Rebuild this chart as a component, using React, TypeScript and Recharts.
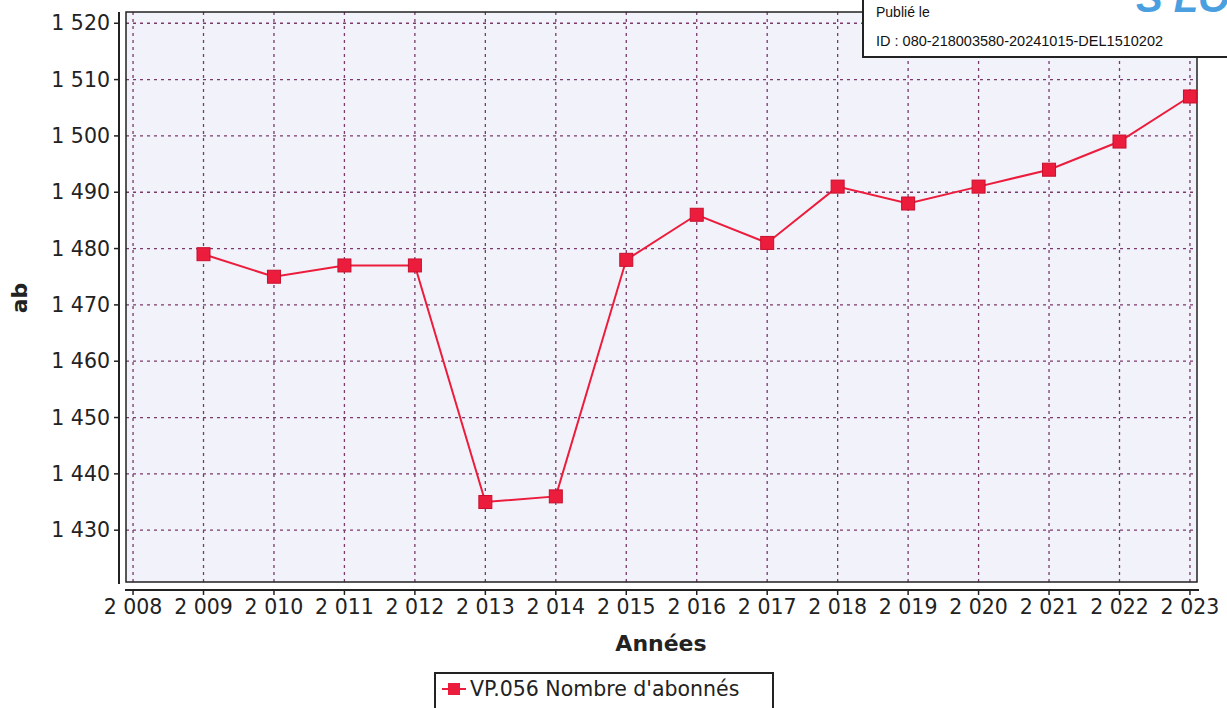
import React from 'react';
import * as Recharts from 'recharts';
import { LineChart, Line, XAxis, YAxis, CartesianGrid } from 'recharts';

const years = [2009, 2010, 2011, 2012, 2013, 2014, 2015, 2016, 2017, 2018, 2019, 2020, 2021, 2022, 2023];
const abonnes = [1479, 1475, 1477, 1477, 1435, 1436, 1478, 1486, 1481, 1491, 1488, 1491, 1494, 1499, 1507];
const xTicks = [2008, 2009, 2010, 2011, 2012, 2013, 2014, 2015, 2016, 2017, 2018, 2019, 2020, 2021, 2022, 2023];
const yTicks = [1430, 1440, 1450, 1460, 1470, 1480, 1490, 1500, 1510, 1520];
const seriesName = "VP.056 Nombre d'abonnés";

const data = years.map((y, i) => ({ year: y, value: abonnes[i] }));

const fmt = (v: number) => String(v).replace(/\B(?=(\d{3})+(?!\d))/g, ' ');
const FONT = '"DejaVu Sans", sans-serif';
const RED = '#ec1c3c';

const W = 1227;
const H = 708;
const M = { top: 12, right: 30, bottom: 0, left: 0 };
const Y_W = 126;
const X_H = 126;

const YTick = (props: any) => {
  const { x, y, payload } = props;
  return (
    <g>
      <line x1={x - 12} x2={x - 7} y1={y} y2={y} stroke="#222" strokeWidth={1.5} />
      <text x={x - 16} y={y} dy={7} textAnchor="end" fontFamily={FONT} fontSize={20.5} fill="#222">
        {fmt(payload.value)}
      </text>
    </g>
  );
};

const XTick = (props: any) => {
  const { x, y, payload } = props;
  return (
    <g>
      <line x1={x} x2={x} y1={y + 8} y2={y + 13} stroke="#222" strokeWidth={1.5} />
      <text x={x} y={y + 32} textAnchor="middle" fontFamily={FONT} fontSize={20.5} fill="#222">
        {fmt(payload.value)}
      </text>
    </g>
  );
};

const Frame = () => {
  const hook = (Recharts as any).usePlotArea;
  const area = hook ? hook() : null;
  const a = area || { x: Y_W, y: M.top, width: W - Y_W - M.right, height: H - M.top - X_H };
  return (
    <g>
      <rect x={a.x} y={a.y} width={a.width} height={a.height} fill="none" stroke="#222" strokeWidth={1.5} />
      <line x1={a.x - 7} x2={a.x - 7} y1={a.y} y2={a.y + a.height + 2} stroke="#222" strokeWidth={2} />
      <line x1={a.x - 1} x2={a.x + a.width + 2} y1={a.y + a.height + 8} y2={a.y + a.height + 8} stroke="#222" strokeWidth={2} />
    </g>
  );
};

const Square = (props: any) => {
  const { cx, cy } = props;
  if (cx == null || cy == null) return null;
  return <rect x={cx - 6.5} y={cy - 6.5} width={13} height={13} fill={RED} stroke="#c8102e" strokeWidth={1} />;
};

const LegendBox = () => (
  <div
    style={{
      position: 'absolute',
      left: 434,
      top: 672,
      width: 340,
      height: 42,
      border: '2px solid #222',
      boxSizing: 'border-box',
      background: '#fff',
      display: 'flex',
      alignItems: 'center',
      fontFamily: FONT,
      fontSize: 20.5,
      color: '#222',
      paddingLeft: 5,
      paddingBottom: 8,
      whiteSpace: 'nowrap',
    }}
  >
    <svg width={26} height={20} style={{ marginRight: 3 }}>
      <line x1={1} x2={25} y1={10} y2={10} stroke={RED} strokeWidth={2} />
      <rect x={7} y={4} width={12} height={12} fill={RED} />
    </svg>
    <span>{seriesName}</span>
  </div>
);

export default function App() {
  return (
    <div style={{ position: 'absolute', left: 0, top: 0, width: W, height: H, background: '#fff', overflow: 'hidden' }}>
      <LineChart width={W} height={H} data={data} margin={M}>
        <CartesianGrid
          fill="#f2f2fb"
          stroke="#7a3a6a"
          strokeDasharray="3 4"
          strokeWidth={1.3}
          horizontalValues={yTicks}
          verticalValues={xTicks}
        />
        <XAxis
          dataKey="year"
          type="number"
          domain={[2007.9, 2023.1]}
          ticks={xTicks}
          allowDataOverflow
          axisLine={false}
          tickLine={false}
          tickSize={0}
          tickMargin={0}
          tick={<XTick />}
          interval={0}
          height={X_H}
        />
        <YAxis
          type="number"
          domain={[1420.8, 1522]}
          ticks={yTicks}
          allowDataOverflow
          axisLine={false}
          tickLine={false}
          tickSize={0}
          tickMargin={0}
          tick={<YTick />}
          width={Y_W}
          interval={0}
        />
        <Line
          type="linear"
          dataKey="value"
          name={seriesName}
          stroke={RED}
          strokeWidth={2}
          dot={<Square />}
          activeDot={false}
          isAnimationActive={false}
        />
        <Frame />
      </LineChart>
      <div
        style={{
          position: 'absolute',
          left: 19,
          top: 298,
          transform: 'translate(-50%, -50%) rotate(-90deg)',
          fontFamily: FONT,
          fontWeight: 'bold',
          fontSize: 22,
          color: '#222',
          whiteSpace: 'nowrap',
        }}
      >
        ab
      </div>
      <div
        style={{
          position: 'absolute',
          left: 661,
          top: 643,
          transform: 'translate(-50%, -50%)',
          fontFamily: FONT,
          fontWeight: 'bold',
          fontSize: 22,
          color: '#222',
          whiteSpace: 'nowrap',
        }}
      >
        Années
      </div>
      <LegendBox />
      <div
        style={{
          position: 'absolute',
          left: 862,
          top: -4,
          width: 380,
          height: 62,
          border: '2px solid #222',
          boxSizing: 'border-box',
          background: '#fff',
          fontFamily: '"Liberation Sans", Arial, sans-serif',
          color: '#111',
          whiteSpace: 'nowrap',
        }}
      >
        <div style={{ position: 'absolute', left: 12, top: 6, fontSize: 14 }}>Publié le</div>
        <div style={{ position: 'absolute', left: 12, top: 35, fontSize: 14.5 }}>ID : 080-218003580-20241015-DEL1510202</div>
        <div
          style={{
            position: 'absolute',
            left: 272,
            top: -22,
            fontSize: 40,
            fontWeight: 'bold',
            fontStyle: 'italic',
            color: '#4a9fe0',
          }}
        >
          S LO
        </div>
      </div>
    </div>
  );
}
